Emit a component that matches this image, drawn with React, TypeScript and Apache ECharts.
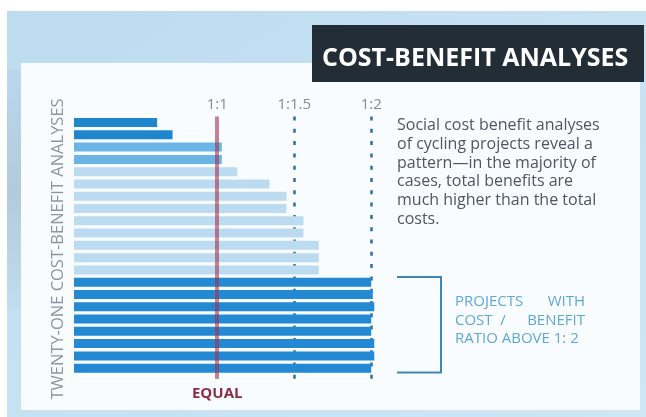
import React, { useEffect, useRef } from 'react';
import * as echarts from 'echarts';

// ---- data ----
const categories = [
  'CBA 1', 'CBA 2', 'CBA 3', 'CBA 4', 'CBA 5', 'CBA 6', 'CBA 7',
  'CBA 8', 'CBA 9', 'CBA 10', 'CBA 11', 'CBA 12', 'CBA 13', 'CBA 14',
  'CBA 15', 'CBA 16', 'CBA 17', 'CBA 18', 'CBA 19', 'CBA 20', 'CBA 21',
];
// benefit per unit of cost (ratio 1:x)
const ratios = [
  0.61, 0.71, 1.03, 1.03, 1.13, 1.34, 1.45, 1.45, 1.56, 1.56, 1.66, 1.66, 1.66,
  2.0, 2.01, 2.02, 2.0, 2.0, 2.02, 2.02, 2.0,
];
const tiers = [
  'below', 'below', 'equal', 'equal',
  'moderate', 'moderate', 'moderate', 'moderate', 'moderate', 'moderate', 'moderate', 'moderate', 'moderate',
  'high', 'high', 'high', 'high', 'high', 'high', 'high', 'high',
];
const tierColors: Record<string, string> = {
  below: '#1f85cc',
  equal: '#6bb4e6',
  moderate: '#bcdbf0',
  high: '#2289d2',
};
const referenceRatios = [1, 1.5, 2];
const referenceLabels = ['1:1', '1:1.5', '1:2'];
const titleText = 'COST-BENEFIT ANALYSES';
const axisTitle = 'TWENTY-ONE COST-BENEFIT ANALYSES';
const equalLabel = 'EQUAL';
const paragraphLines = [
  'Social cost benefit analyses',
  'of cycling projects reveal a',
  'pattern\u2014in the majority of',
  'cases, total benefits are',
  'much higher than the total',
  'costs.',
];
const noteLine1 = ['PROJECTS', 'WITH'];
const noteLine2 = ['COST', '/', 'BENEFIT'];
const noteLine3 = 'RATIO ABOVE 1: 2';

const FONT = '"Open Sans", "Noto Sans", sans-serif';
const LINE_TOP = 116.5;
const LINE_BOTTOM = 379;

export default function App() {
  const ref = useRef<HTMLDivElement>(null);

  useEffect(() => {
    if (!ref.current) return;
    const chart = echarts.init(ref.current, undefined, { renderer: 'svg' });

    const X_MIN = 0.07;
    const X_MAX = 2.15;

    const noteColor = '#5fa7d8';
    const noteFont = { fontSize: 15, lineHeight: 18, fontFamily: FONT, fill: noteColor };

    const paraTexts = paragraphLines.map((line, i) => ({
      type: 'text', z: 20, x: 397, y: 124 + i * 18.8,
      style: {
        text: line, fill: '#4e5760', fontSize: 16, lineHeight: 18.5, fontFamily: FONT,
        textAlign: 'left', textVerticalAlign: 'middle',
      },
    }));

    const option: any = {
      animation: false,
      grid: { left: 74, top: 116.4, width: 320.3, height: 257.9 },
      xAxis: {
        type: 'value',
        min: X_MIN,
        max: X_MAX,
        startValue: X_MIN,
        show: false,
        splitLine: { show: false },
      },
      yAxis: {
        type: 'category',
        data: categories,
        inverse: true,
        show: false,
      },
      graphic: [
        { type: 'rect', z: -20, shape: { x: 0, y: 0, width: 646, height: 417 }, style: { fill: '#ffffff' } },
        {
          type: 'rect', z: -19,
          shape: { x: 7, y: 11, width: 639, height: 406 },
          style: {
            fill: new echarts.graphic.LinearGradient(0, 0, 1, 1, [
              { offset: 0, color: '#bddcf0' },
              { offset: 1, color: '#cfe6f4' },
            ]),
          },
        },
        {
          type: 'rect', z: -18,
          shape: { x: 7, y: 70, width: 14, height: 240 },
          style: {
            fill: new echarts.graphic.LinearGradient(0, 0, 0, 1, [
              { offset: 0, color: 'rgba(150,165,180,0.1)' },
              { offset: 0.5, color: 'rgba(150,165,180,0.35)' },
              { offset: 1, color: 'rgba(150,165,180,0.05)' },
            ]),
          },
        },
        { type: 'rect', z: -17, shape: { x: 21, y: 63, width: 619, height: 347 }, style: { fill: '#f9fcfe' } },
        { type: 'rect', z: -16, shape: { x: 312, y: 25, width: 332, height: 57 }, style: { fill: '#222d36' } },
        {
          type: 'text', z: 20, x: 322, y: 56,
          style: {
            text: titleText, fill: '#ffffff', fontSize: 25, fontWeight: 'bold', fontFamily: FONT,
            textAlign: 'left', textVerticalAlign: 'middle',
          },
        },
        {
          type: 'text', z: 20, x: 56, y: 249, rotation: Math.PI / 2,
          style: {
            text: axisTitle, fill: '#8a96a0', fontSize: 16.5, fontFamily: FONT,
            textAlign: 'center', textVerticalAlign: 'middle',
          },
        },
        ...paraTexts,
        {
          type: 'polyline', z: 20,
          shape: { points: [[397, 277], [441, 277], [441, 372.5], [397, 372.5]] },
          style: { stroke: '#3f86bb', lineWidth: 2, fill: 'none' },
        },
        { type: 'text', z: 20, x: 455, y: 300, style: { ...noteFont, text: noteLine1[0], textAlign: 'left', textVerticalAlign: 'middle' } },
        { type: 'text', z: 20, x: 585, y: 300, style: { ...noteFont, text: noteLine1[1], textAlign: 'right', textVerticalAlign: 'middle' } },
        { type: 'text', z: 20, x: 455, y: 318.5, style: { ...noteFont, text: noteLine2[0], textAlign: 'left', textVerticalAlign: 'middle' } },
        { type: 'text', z: 20, x: 503, y: 318.5, style: { ...noteFont, text: noteLine2[1], textAlign: 'center', textVerticalAlign: 'middle' } },
        { type: 'text', z: 20, x: 585, y: 318.5, style: { ...noteFont, text: noteLine2[2], textAlign: 'right', textVerticalAlign: 'middle' } },
        { type: 'text', z: 20, x: 455, y: 337, style: { ...noteFont, text: noteLine3, textAlign: 'left', textVerticalAlign: 'middle' } },
      ],
      series: [
        {
          type: 'line',
          data: [],
          z: 1,
          markLine: {
            z: 1,
            silent: true,
            symbol: 'none',
            animation: false,
            label: {
              show: true,
              position: 'start',
              distance: 6,
              color: '#7f8b95',
              fontSize: 15,
              fontFamily: FONT,
            },
            lineStyle: { color: '#2d6ea5', width: 2.5, type: [4, 8.3] },
            data: referenceRatios.map((r, i) => [
              {
                xAxis: r,
                y: LINE_TOP,
                label: { formatter: referenceLabels[i] },
                lineStyle: r === 1 ? { color: 'rgba(0,0,0,0)' } : undefined,
              },
              { xAxis: r, y: LINE_BOTTOM },
            ]),
          },
        },
        {
          type: 'bar',
          z: 2,
          barWidth: 9,
          data: ratios.map((v, i) => ({ value: v, itemStyle: { color: tierColors[tiers[i]] } })),
        },
        {
          type: 'line',
          data: [],
          z: 3,
          markLine: {
            z: 6,
            silent: true,
            symbol: 'none',
            animation: false,
            lineStyle: { color: 'rgba(160,48,79,0.6)', width: 4, type: 'solid' },
            label: {
              show: true,
              position: 'end',
              distance: 5,
              formatter: equalLabel,
              color: '#8c2d47',
              fontSize: 15,
              fontWeight: 'bold',
              fontFamily: FONT,
            },
            data: [[{ xAxis: referenceRatios[0], y: LINE_TOP }, { xAxis: referenceRatios[0], y: LINE_BOTTOM }]],
          },
        },
      ],
    };

    chart.setOption(option);
    return () => chart.dispose();
  }, []);

  return (
    <div
      ref={ref}
      style={{ position: 'fixed', left: 0, top: 0, width: 646, height: 417 }}
    />
  );
}
